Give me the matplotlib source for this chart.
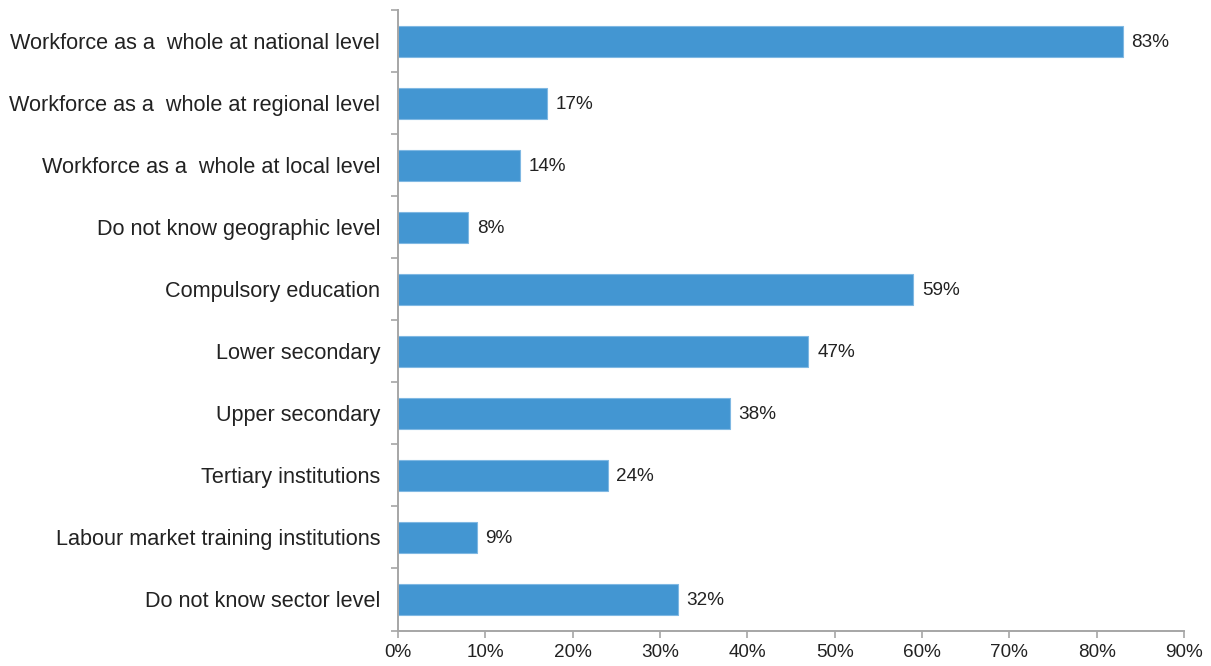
import matplotlib
matplotlib.use("Agg")
import matplotlib.pyplot as plt
from matplotlib.ticker import MultipleLocator, FuncFormatter, FixedLocator

plt.rcParams['font.family'] = ['Liberation Sans', 'DejaVu Sans']

categories = [
    "Workforce as a  whole at national level",
    "Workforce as a  whole at regional level",
    "Workforce as a  whole at local level",
    "Do not know geographic level",
    "Compulsory education",
    "Lower secondary",
    "Upper secondary",
    "Tertiary institutions",
    "Labour market training institutions",
    "Do not know sector level",
]
values = [83, 17, 14, 8, 59, 47, 38, 24, 9, 32]

bar_color = "#4396d2"
edge_color = "#7fb8e3"
axis_color = "#a6a6a6"
text_color = "#222222"

fig = plt.figure(figsize=(12.11, 6.66), dpi=100)
ax = fig.add_axes([0.3287, 0.0533, 0.9777 - 0.3287, 0.985 - 0.0533])

n = len(categories)
ypos = list(range(n))
ax.barh(ypos, values, height=0.5, color=bar_color,
        edgecolor=edge_color, linewidth=0.8)

ax.set_ylim(n - 0.5, -0.5)
ax.set_xlim(0, 90)

for y, v in zip(ypos, values):
    ax.text(v + 1.0, y + 0.02, f"{v}%", va="center", ha="left",
            fontsize=13.6, color=text_color)

ax.set_yticks(ypos)
ax.set_yticklabels(categories, fontsize=15.6, color=text_color)
ax.yaxis.set_minor_locator(FixedLocator([i - 0.5 for i in range(n + 1)]))
ax.tick_params(axis="y", which="major", length=0, pad=13)
ax.tick_params(axis="y", which="minor", length=5, width=1.2, color=axis_color)

ax.xaxis.set_major_locator(MultipleLocator(10))
ax.xaxis.set_major_formatter(FuncFormatter(lambda x, p: f"{x:.0f}%"))
ax.tick_params(axis="x", length=5, width=1.2, color=axis_color,
               labelsize=13.6, labelcolor=text_color, pad=5)

for side in ("top", "right"):
    ax.spines[side].set_visible(False)
for side in ("left", "bottom"):
    ax.spines[side].set_color(axis_color)
    ax.spines[side].set_linewidth(1.4)

fig.savefig("out.png", dpi=100)
